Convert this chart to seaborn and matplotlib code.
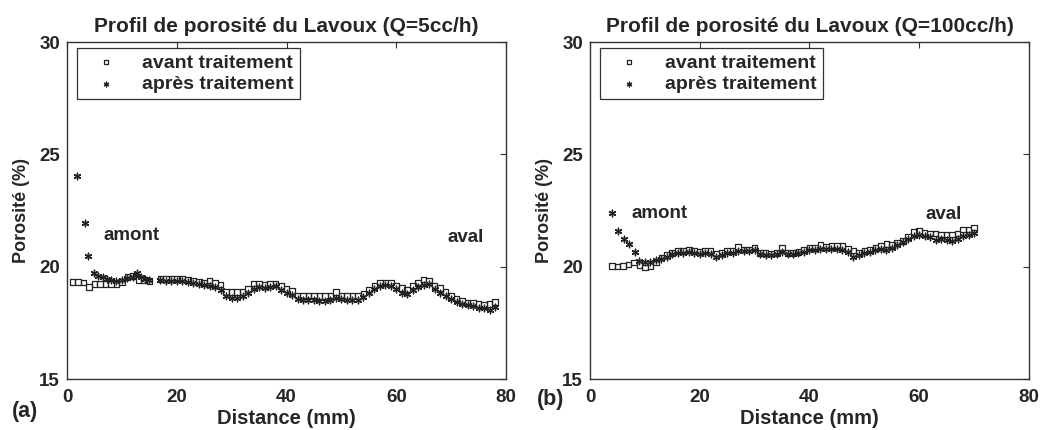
import numpy as np
import pandas as pd
import matplotlib
matplotlib.use('Agg')
import matplotlib.pyplot as plt
import seaborn as sns

# Panel (a) : Q = 5 cc/h
dist_avant_a = [1, 2, 3, 4, 5, 6, 7, 8, 9, 10, 11, 12, 13, 14, 15,
                17, 18, 19, 20, 21, 22, 23, 24, 25, 26, 27, 28, 29, 30,
                31, 32, 33, 34, 35, 36, 37, 38, 39, 40, 41, 42, 43, 44, 45,
                46, 47, 48, 49, 50, 51, 52, 53, 54, 55, 56, 57, 58, 59, 60,
                61, 62, 63, 64, 65, 66, 67, 68, 69, 70, 71, 72, 73, 74, 75,
                76, 77, 78]
poro_avant_a = [19.33, 19.33, 19.29, 19.10, 19.23, 19.23, 19.23, 19.23, 19.23, 19.33,
                19.55, 19.58, 19.41, 19.41, 19.36,
                19.46, 19.46, 19.46, 19.48, 19.45, 19.42, 19.36, 19.33, 19.30, 19.39,
                19.28, 19.20, 18.87, 18.87, 18.87, 18.87, 19.01, 19.25, 19.25, 19.20,
                19.25, 19.25, 19.13, 19.01, 18.91, 18.72, 18.72, 18.72, 18.72, 18.70,
                18.70, 18.72, 18.87, 18.72, 18.70, 18.70, 18.70, 18.81, 18.99, 19.13,
                19.30, 19.30, 19.30, 19.16, 19.06, 18.99, 19.16, 19.30, 19.42, 19.39,
                19.13, 19.06, 18.87, 18.70, 18.55, 18.48, 18.41, 18.38, 18.33, 18.29,
                18.33, 18.43]
dist_apres_a = [1.8, 3.2, 3.8, 5.0, 5.7, 6.5, 7.3, 8.0, 9, 10, 11, 12, 12.7, 13.5, 14.3, 15,
                17, 18, 19, 20, 21, 22, 23, 24, 25, 26, 27, 28, 29, 30,
                31, 32, 33, 34, 35, 36, 37, 38, 39, 40, 41, 42, 43, 44, 45,
                46, 47, 48, 49, 50, 51, 52, 53, 54, 55, 56, 57, 58, 59, 60,
                61, 62, 63, 64, 65, 66, 67, 68, 69, 70, 71, 72, 73, 74, 75,
                76, 77, 78]
poro_apres_a = [24.03, 21.96, 20.46, 19.71, 19.58, 19.52, 19.45, 19.40, 19.38, 19.42,
                19.50, 19.55, 19.71, 19.55, 19.45, 19.40,
                19.40, 19.38, 19.38, 19.36, 19.35, 19.30, 19.28, 19.22, 19.18, 19.15,
                19.08, 18.95, 18.70, 18.62, 18.62, 18.68, 18.85, 19.02, 19.08, 19.05,
                19.10, 19.12, 18.98, 18.85, 18.72, 18.55, 18.50, 18.50, 18.50, 18.48,
                18.48, 18.52, 18.60, 18.55, 18.50, 18.50, 18.52, 18.65, 18.85, 19.02,
                19.15, 19.18, 19.12, 19.00, 18.85, 18.80, 18.95, 19.10, 19.20, 19.22,
                19.02, 18.85, 18.70, 18.55, 18.42, 18.32, 18.28, 18.25, 18.18, 18.15,
                18.05, 18.20]

# Panel (b) : Q = 100 cc/h
dist_avant_b = [4, 5, 6, 7, 8, 9, 10, 11, 12, 13, 14, 15, 16, 17, 18, 19, 20,
                21, 22, 23, 24, 25, 26, 27, 28, 29, 30, 31, 32, 33, 34, 35, 36,
                37, 38, 39, 40, 41, 42, 43, 44, 45, 46, 47, 48, 49, 50, 51, 52,
                53, 54, 55, 56, 57, 58, 59, 60, 61, 62, 63, 64, 65, 66, 67, 68,
                69, 70]
poro_avant_b = [20.04, 20.00, 20.04, 20.10, 20.18, 20.07, 19.97, 20.03, 20.18, 20.41,
                20.51, 20.62, 20.71, 20.71, 20.76, 20.71, 20.66, 20.71, 20.71, 20.59,
                20.62, 20.71, 20.71, 20.88, 20.76, 20.76, 20.85, 20.62, 20.62, 20.59,
                20.62, 20.85, 20.62, 20.62, 20.66, 20.76, 20.85, 20.85, 20.96, 20.88,
                20.91, 20.91, 20.91, 20.81, 20.71, 20.62, 20.71, 20.76, 20.85, 20.91,
                21.00, 20.96, 21.06, 21.15, 21.35, 21.54, 21.59, 21.50, 21.47, 21.47,
                21.44, 21.44, 21.44, 21.47, 21.65, 21.65, 21.74]
dist_apres_b = [4.1, 5.2, 6.2, 7.2, 8.2, 9, 10, 11, 12, 13, 14, 15, 16, 17, 18, 19, 20,
                21, 22, 23, 24, 25, 26, 27, 28, 29, 30, 31, 32, 33, 34, 35, 36,
                37, 38, 39, 40, 41, 42, 43, 44, 45, 46, 47, 48, 49, 50, 51, 52,
                53, 54, 55, 56, 57, 58, 59, 60, 61, 62, 63, 64, 65, 66, 67, 68,
                69, 70]
poro_apres_b = [22.38, 21.59, 21.25, 21.00, 20.66, 20.25, 20.22, 20.20, 20.28, 20.35,
                20.45, 20.55, 20.60, 20.62, 20.65, 20.62, 20.58, 20.60, 20.55, 20.42,
                20.52, 20.60, 20.62, 20.70, 20.68, 20.70, 20.72, 20.55, 20.52, 20.50,
                20.55, 20.65, 20.58, 20.55, 20.60, 20.65, 20.72, 20.75, 20.80, 20.78,
                20.80, 20.78, 20.76, 20.65, 20.42, 20.50, 20.60, 20.65, 20.72, 20.78,
                20.72, 20.85, 20.95, 21.10, 21.25, 21.38, 21.42, 21.38, 21.30, 21.20,
                21.25, 21.18, 21.15, 21.25, 21.35, 21.40, 21.50]

titles = ['Profil de porosité du Lavoux (Q=5cc/h)', 'Profil de porosité du Lavoux (Q=100cc/h)']
panel_tags = ['(a)', '(b)']
label_avant = 'avant traitement'
label_apres = 'après traitement'

sns.set_style('white')
plt.rcParams['font.family'] = ['Liberation Sans', 'DejaVu Sans']
plt.rcParams['font.weight'] = 'bold'

ASTERISK = (6, 2, 0)

fig = plt.figure(figsize=(10.44, 4.30), dpi=100)
ax_a = fig.add_axes([0.0642, 0.1186, 0.4205, 0.7837])
ax_b = fig.add_axes([0.5651, 0.1186, 0.4205, 0.7837])

panels = [
    (ax_a, dist_avant_a, poro_avant_a, dist_apres_a, poro_apres_a,
     [(6.7, 21.4), (69.4, 21.3)]),
    (ax_b, dist_avant_b, poro_avant_b, dist_apres_b, poro_apres_b,
     [(7.6, 22.35), (61.2, 22.3)]),
]

for i, (ax, xa, ya, xp, yp, txt_pos) in enumerate(panels):
    df_av = pd.DataFrame({'Distance': xa, 'Porosite': ya})
    df_ap = pd.DataFrame({'Distance': xp, 'Porosite': yp})
    sns.scatterplot(data=df_av, x='Distance', y='Porosite', ax=ax, marker='s',
                    s=16, facecolors='none', edgecolor='#222222', linewidth=0.9,
                    label=label_avant, zorder=3)
    sns.scatterplot(data=df_ap, x='Distance', y='Porosite', ax=ax, marker=ASTERISK,
                    s=22, color='#222222', edgecolor='#222222', linewidth=1.0,
                    label=label_apres, zorder=2)

    ax.set_xlim(0, 80)
    ax.set_ylim(15, 30)
    ax.set_xticks([0, 20, 40, 60, 80])
    ax.set_yticks([15, 20, 25, 30])
    ax.tick_params(direction='in', top=True, right=True, length=4, width=0.8,
                   labelsize=13.5, color='#333333')
    ax.tick_params(axis='x', pad=7)
    ax.tick_params(axis='y', pad=5)
    for lab in ax.get_xticklabels() + ax.get_yticklabels():
        lab.set_fontweight('bold')
    for sp in ax.spines.values():
        sp.set_color('#333333')
        sp.set_linewidth(1.0)

    ax.set_title(titles[i], fontsize=15, fontweight='bold', pad=7)
    ax.set_xlabel('Distance (mm)', fontsize=14.5, fontweight='bold', labelpad=2)
    ax.set_ylabel('Porosité (%)', fontsize=13, fontweight='bold', labelpad=7)

    ax.text(txt_pos[0][0], txt_pos[0][1], 'amont', fontsize=13.5, fontweight='bold',
            va='center', ha='left')
    ax.text(txt_pos[1][0], txt_pos[1][1], 'aval', fontsize=13.5, fontweight='bold',
            va='center', ha='left')

    leg = ax.legend(loc='upper left', bbox_to_anchor=(0.0228, 0.982), fontsize=14,
                    frameon=True, fancybox=False, borderaxespad=0.0,
                    handletextpad=0.65, borderpad=0.3, labelspacing=0.2,
                    markerscale=0.7, handlelength=2.4)
    leg.get_frame().set_edgecolor('black')
    leg.get_frame().set_linewidth(0.9)
    for t in leg.get_texts():
        t.set_fontweight('bold')

fig.text(0.0115, 0.042, panel_tags[0], fontsize=15.5, fontweight='bold', va='center')
fig.text(0.514, 0.07, panel_tags[1], fontsize=15.5, fontweight='bold', va='center')

fig.savefig('out.png', dpi=100, facecolor='white')
